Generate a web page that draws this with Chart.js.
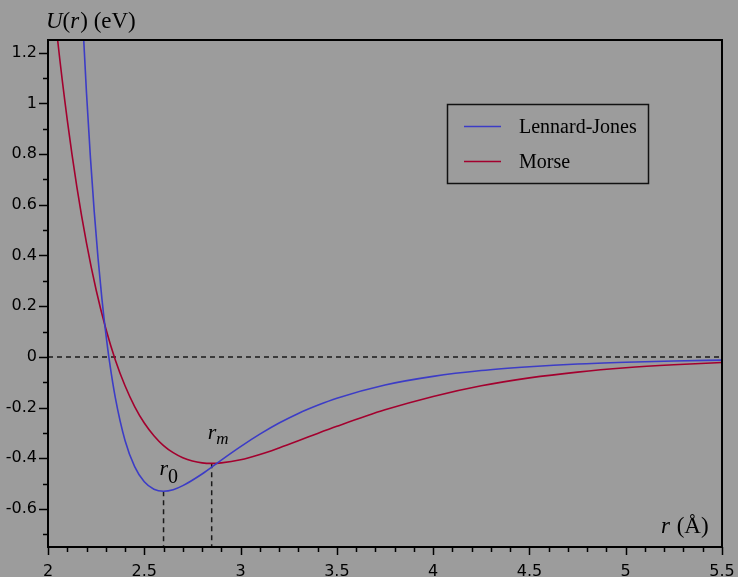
<!DOCTYPE html>
<html lang="en">
<head>
<meta charset="UTF-8">
<title>Lennard-Jones vs Morse</title>
<script src="https://cdn.jsdelivr.net/npm/chart.js"></script>
<style>
  body { margin: 0; background: #9c9c9c; }
  #wrap { width: 738px; height: 577px; }
</style>
</head>
<body>
<div id="wrap"><canvas id="potChart"></canvas></div>
<script>
// separation r (Angstrom) and potential U (eV)
const ljR = [2.16, 2.18, 2.20, 2.22, 2.24, 2.26, 2.28, 2.30, 2.32, 2.35, 2.40, 2.45, 2.50, 2.55, 2.60, 2.65, 2.70, 2.80, 2.90, 3.00, 3.10, 3.20, 3.30, 3.40, 3.50, 3.75, 4.00, 4.25, 4.50, 4.75, 5.00, 5.25, 5.50];
const ljU = [1.67, 1.33, 1.04, 0.79, 0.574, 0.388, 0.229, 0.094, -0.022, -0.163, -0.330, -0.433, -0.493, -0.522, -0.530, -0.524, -0.508, -0.462, -0.407, -0.354, -0.305, -0.261, -0.223, -0.191, -0.163, -0.111, -0.077, -0.054, -0.039, -0.028, -0.021, -0.016, -0.013];
const morseR = [2.00, 2.05, 2.10, 2.15, 2.20, 2.25, 2.30, 2.35, 2.40, 2.45, 2.50, 2.55, 2.60, 2.65, 2.70, 2.75, 2.80, 2.85, 2.90, 3.00, 3.10, 3.20, 3.30, 3.40, 3.50, 3.75, 4.00, 4.25, 4.50, 4.75, 5.00, 5.25, 5.50];
const morseU = [1.63, 1.25, 0.935, 0.670, 0.449, 0.264, 0.112, -0.013, -0.114, -0.196, -0.261, -0.311, -0.350, -0.378, -0.398, -0.411, -0.418, -0.420, -0.418, -0.406, -0.385, -0.359, -0.331, -0.302, -0.274, -0.209, -0.156, -0.114, -0.083, -0.060, -0.043, -0.031, -0.022];

// minima: r0 (Lennard-Jones) and rm (Morse)
const minR = [2.60, 2.85];
const minU = [-0.530, -0.420];

const xMin = 2, xMax = 5.5;
const yMin = -0.75, yMax = 1.25;
const xTicks = [2, 2.5, 3, 3.5, 4, 4.5, 5, 5.5];
const yTicks = [-0.6, -0.4, -0.2, 0, 0.2, 0.4, 0.6, 0.8, 1, 1.2];

const BLUE = '#3c3cc6';
const RED = '#a3002e';
const SERIF = '"Liberation Serif", "Times New Roman", serif';

function toPoints(xs, ys) {
  return xs.map((v, i) => ({ x: v, y: ys[i] }));
}

// plain number labels: 1 instead of 1.0
const plainLabel = v => String(Math.round(v * 10) / 10);

// draws text made of pieces with different styles, left to right
function drawRuns(ctx, x, y, runs) {
  runs.forEach(run => {
    ctx.font = run.font;
    ctx.fillText(run.text, x, y + (run.dy || 0));
    x += ctx.measureText(run.text).width + (run.gap || 0);
  });
}

const decor = {
  id: 'decor',
  beforeDraw(chart) {
    const ctx = chart.ctx;
    ctx.save();
    ctx.fillStyle = '#9c9c9c';
    ctx.fillRect(0, 0, chart.width, chart.height);
    ctx.restore();
  },
  afterDraw(chart) {
    const { ctx, chartArea: a, scales: { x, y } } = chart;
    ctx.save();
    ctx.strokeStyle = '#000';
    ctx.fillStyle = '#000';

    // frame
    ctx.lineWidth = 2;
    ctx.strokeRect(a.left, a.top, a.right - a.left, a.bottom - a.top);

    // major and minor ticks, pointing outward
    ctx.lineWidth = 1.5;
    ctx.beginPath();
    for (let i = -7; i <= 12; i++) {
      const v = i / 10;
      const len = i % 2 === 0 ? 9 : 5;
      const py = Math.round(y.getPixelForValue(v)) + 0.5;
      ctx.moveTo(a.left - len, py);
      ctx.lineTo(a.left, py);
    }
    for (let i = 20; i <= 55; i++) {
      const v = i / 10;
      const len = i % 5 === 0 ? 8 : 5;
      const px = Math.round(x.getPixelForValue(v)) + 0.5;
      ctx.moveTo(px, a.bottom);
      ctx.lineTo(px, a.bottom + len);
    }
    ctx.stroke();

    // axis titles
    ctx.textBaseline = 'alphabetic';
    drawRuns(ctx, 46, 28, [
      { text: 'U', font: 'italic 23px ' + SERIF },
      { text: '(', font: '23px ' + SERIF },
      { text: 'r', font: 'italic 23px ' + SERIF, gap: 1 },
      { text: ') (eV)', font: '23px ' + SERIF }
    ]);
    drawRuns(ctx, 661, 533, [
      { text: 'r', font: 'italic 23px ' + SERIF, gap: 1 },
      { text: ' (Å)', font: '23px ' + SERIF }
    ]);

    // labels at the minima
    const p0x = x.getPixelForValue(minR[0]);
    const p0y = y.getPixelForValue(minU[0]);
    drawRuns(ctx, p0x - 4, p0y - 16, [
      { text: 'r', font: 'italic 22px ' + SERIF },
      { text: '0', font: '20px ' + SERIF, dy: 8 }
    ]);
    const pmx = x.getPixelForValue(minR[1]);
    const pmy = y.getPixelForValue(minU[1]);
    drawRuns(ctx, pmx - 4, pmy - 24, [
      { text: 'r', font: 'italic 22px ' + SERIF },
      { text: 'm', font: 'italic 17px ' + SERIF, dy: 5 }
    ]);

    // legend
    ctx.lineWidth = 1.5;
    ctx.strokeStyle = '#111';
    ctx.strokeRect(447.5, 104.5, 201, 79);
    const items = chart.data.datasets.slice(0, 2);
    items.forEach((ds, i) => {
      const ly = 126 + i * 35;
      ctx.strokeStyle = ds.borderColor;
      ctx.lineWidth = 1.5;
      ctx.beginPath();
      ctx.moveTo(464, ly + 0.5);
      ctx.lineTo(501, ly + 0.5);
      ctx.stroke();
      ctx.fillStyle = '#000';
      ctx.font = '20px ' + SERIF;
      ctx.textBaseline = 'middle';
      ctx.fillText(ds.label, 519, ly + 2);
    });
    ctx.restore();
  }
};

const dashed = {
  borderColor: '#1a1a1a',
  borderWidth: 1.5,
  borderDash: [5, 4],
  pointRadius: 0,
  tension: 0
};

new Chart(document.getElementById('potChart'), {
  type: 'line',
  data: {
    datasets: [
      {
        label: 'Lennard-Jones',
        data: toPoints(ljR, ljU),
        borderColor: BLUE,
        borderWidth: 1.6,
        pointRadius: 0,
        cubicInterpolationMode: 'monotone'
      },
      {
        label: 'Morse',
        data: toPoints(morseR, morseU),
        borderColor: RED,
        borderWidth: 1.6,
        pointRadius: 0,
        cubicInterpolationMode: 'monotone'
      },
      Object.assign({ label: 'zero', data: [{ x: xMin, y: 0 }, { x: xMax, y: 0 }] }, dashed),
      Object.assign({ label: 'r0', data: [{ x: minR[0], y: minU[0] }, { x: minR[0], y: yMin }] }, dashed),
      Object.assign({ label: 'rm', data: [{ x: minR[1], y: minU[1] }, { x: minR[1], y: yMin }] }, dashed)
    ]
  },
  options: {
    responsive: true,
    maintainAspectRatio: false,
    animation: false,
    layout: { padding: { top: 40, right: 16, left: 0, bottom: 0 } },
    plugins: {
      legend: { display: false },
      tooltip: { enabled: false }
    },
    scales: {
      x: {
        type: 'linear',
        min: xMin,
        max: xMax,
        afterBuildTicks: s => { s.ticks = xTicks.map(v => ({ value: v })); },
        afterFit: s => { s.height = 30; s.paddingLeft = 0; s.paddingRight = 0; },
        grid: { display: false, drawTicks: false },
        border: { display: false },
        ticks: {
          padding: 15,
          maxRotation: 0,
          color: '#000',
          font: { family: 'DejaVu Sans', size: 16 },
          callback: plainLabel
        }
      },
      y: {
        min: yMin,
        max: yMax,
        afterBuildTicks: s => { s.ticks = yTicks.map(v => ({ value: v })); },
        afterFit: s => { s.width = 48; s.paddingTop = 0; s.paddingBottom = 0; },
        grid: { display: false, drawTicks: false },
        border: { display: false },
        ticks: {
          padding: 11,
          color: '#000',
          font: { family: 'DejaVu Sans', size: 16 },
          callback: plainLabel
        }
      }
    }
  },
  plugins: [decor]
});
</script>
</body>
</html>
